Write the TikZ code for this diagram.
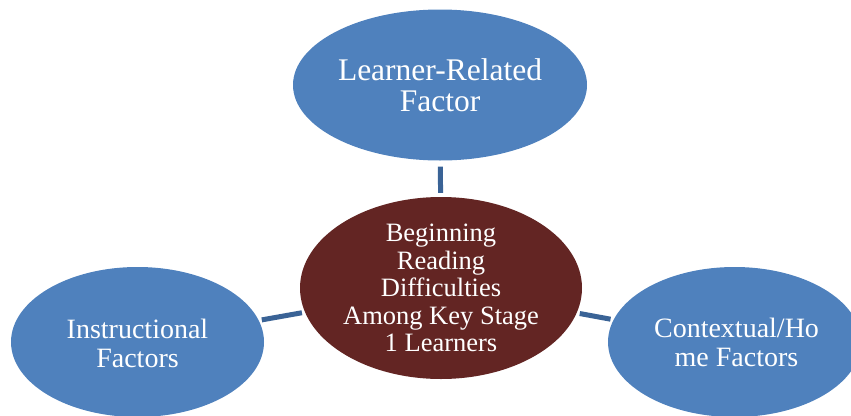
\documentclass[tikz,border=0pt]{standalone}
\usepackage{fontspec}
\setmainfont{Liberation Serif}
\usetikzlibrary{shapes.geometric}
\definecolor{bubbleblue}{RGB}{79,129,189}
\definecolor{coreRed}{RGB}{99,37,35}
\definecolor{linkblue}{RGB}{58,99,150}
\tikzset{
  bubble/.style={ellipse, fill=bubbleblue, draw=none, inner sep=0pt},
  core/.style={ellipse, fill=coreRed, draw=none, inner sep=0pt},
  btext/.style={text=white, align=center, inner sep=0pt},
  link/.style={draw=linkblue, line width=5pt, line cap=butt},
}
\begin{document}
\begin{tikzpicture}[x=1pt,y=-1pt]
\useasboundingbox (0,0) rectangle (851,415);
\node[bubble, minimum width=294pt, minimum height=151pt] (top) at (440,85) {};
\node[core, minimum width=282pt, minimum height=182pt] (mid) at (441,288) {};
\node[bubble, minimum width=253pt, minimum height=150pt] (left) at (137.5,342) {};
\node[bubble, minimum width=253pt, minimum height=150pt] (right) at (734.5,342) {};
\node[btext, font=\fontsize{31.5}{31}\selectfont] (toptext) at (440,85) {Learner-Related\\Factor};
\node[btext, font=\fontsize{26.5}{27.4}\selectfont] (midtext) at (441,288) {Beginning\\Reading\\Difficulties\\Among Key Stage\\1 Learners};
\node[btext, font=\fontsize{28}{29}\selectfont] (lefttext) at (137.5,343) {Instructional\\Factors};
\node[btext, font=\fontsize{28}{29}\selectfont] (righttext) at (736.5,342) {Contextual/Ho\\me Factors};
\draw[link, shorten <=6pt, shorten >=4pt] (top) -- (mid);
\draw[link, shorten <=3pt, shorten >=3pt] (left) -- (mid);
\draw[link, shorten <=3pt, shorten >=3pt] (right) -- (mid);
\end{tikzpicture}
\end{document}
